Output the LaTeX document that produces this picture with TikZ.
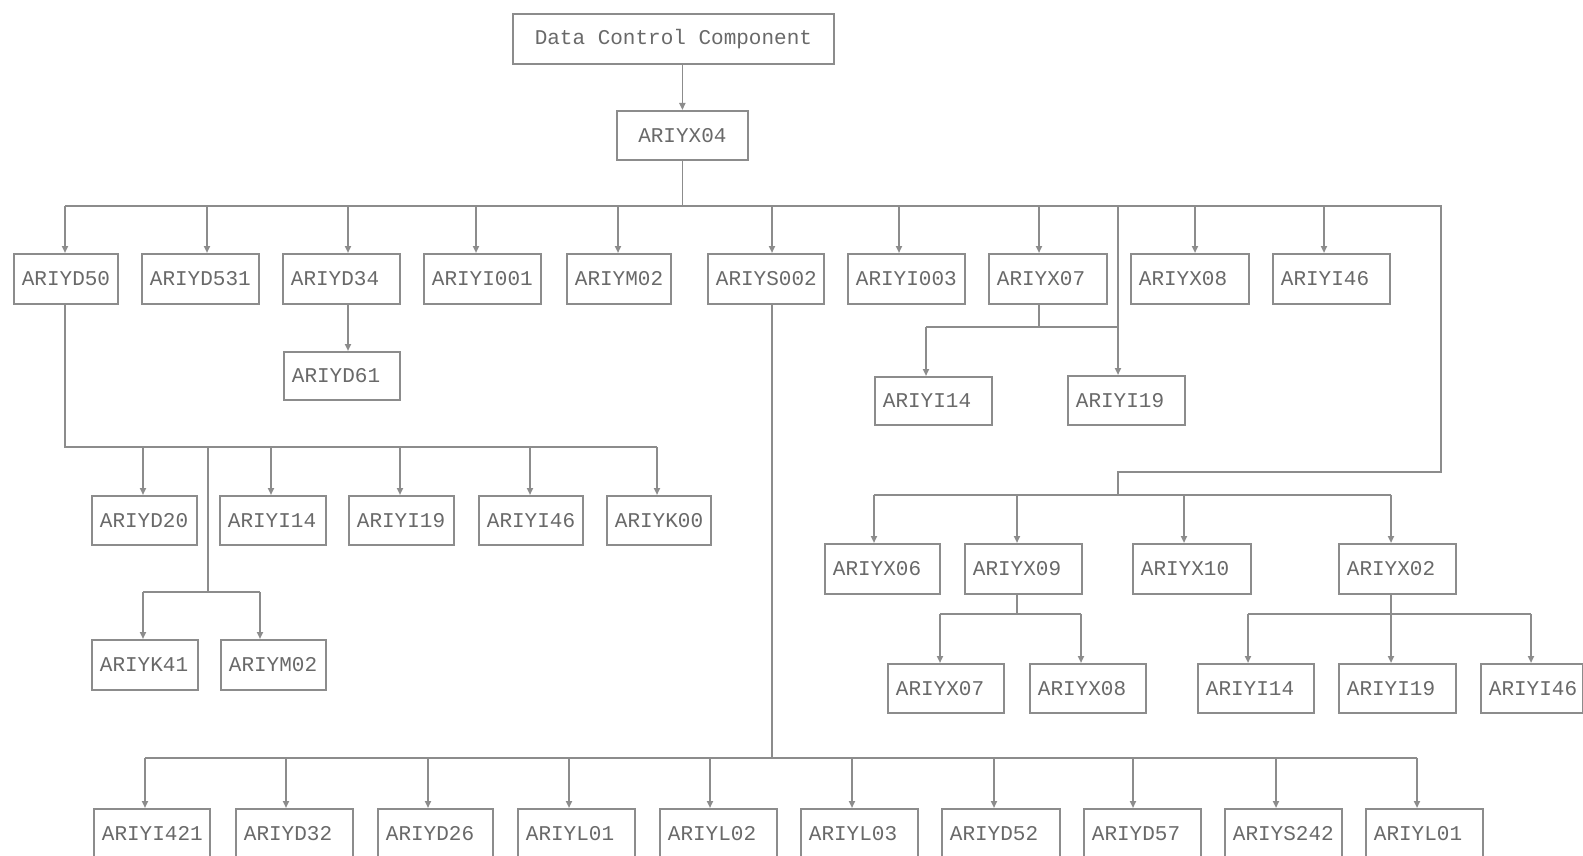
\documentclass[tikz,border=0pt]{standalone}
\usepackage{fontspec}
\newfontfamily\boxfont{Liberation Mono}
\usetikzlibrary{arrows.meta}
\definecolor{inkgray}{RGB}{105,105,105}
\definecolor{linegray}{RGB}{140,140,140}
\tikzset{
  bx/.style={draw=linegray, line width=1.8pt, inner xsep=8pt, inner ysep=0pt,
    text=inkgray, font=\boxfont\fontsize{21}{24}\selectfont, anchor=north west},
  ln/.style={draw=linegray, line width=1.8pt},
  arr/.style={ln, -{Triangle[length=7pt,width=6pt]}},
}
% \mknode{name}{left}{top}{width}{height}{entry offset}{label}
\newcommand\mknode[7]{%
  \node[bx, minimum height=#5pt] (#1) at (#2,#3)
    {\makebox[\dimexpr#4pt-16pt\relax][l]{#7}};
  \coordinate (#1-in) at ([xshift=#6pt]#1.north west);
}
\begin{document}
\begin{tikzpicture}[x=1pt,y=-1pt]
\useasboundingbox[fill=white] (0,0) rectangle (1583,856);

% root and its single child
\node[bx, minimum width=321pt, minimum height=50pt] (DCC) at (512,13) {Data Control Component};
\node[bx, minimum width=131pt, minimum height=49pt] (X04) at (616,110) {ARIYX04};

% first level
\mknode{D50}{13}{253}{104}{50}{52}{ARIYD50}
\mknode{D531}{141}{253}{117}{50}{66}{ARIYD531}
\mknode{D34}{282}{253}{117}{50}{66}{ARIYD34}
\mknode{I001}{423}{253}{117}{50}{53}{ARIYI001}
\mknode{M02}{566}{253}{104}{50}{52}{ARIYM02}
\mknode{S002}{707}{253}{116}{50}{65}{ARIYS002}
\mknode{I003}{847}{253}{117}{50}{52}{ARIYI003}
\mknode{X07}{988}{253}{118}{50}{51}{ARIYX07}
\mknode{X08}{1130}{253}{118}{50}{65}{ARIYX08}
\mknode{I46}{1272}{253}{117}{50}{52}{ARIYI46}

\mknode{D61}{283}{351}{116}{48}{65}{ARIYD61}
\mknode{I14a}{874}{376}{117}{48}{52}{ARIYI14}
\mknode{I19a}{1067}{375}{117}{49}{51}{ARIYI19}

% under ARIYD50
\mknode{D20}{91}{495}{105}{49}{52}{ARIYD20}
\mknode{I14b}{219}{495}{106}{49}{52}{ARIYI14}
\mknode{I19b}{348}{495}{105}{49}{52}{ARIYI19}
\mknode{I46b}{478}{495}{104}{49}{52}{ARIYI46}
\mknode{K00}{606}{495}{104}{49}{51}{ARIYK00}
\mknode{K41}{91}{639}{106}{50}{52}{ARIYK41}
\mknode{M02b}{220}{639}{105}{50}{40}{ARIYM02}

% right-hand branch
\mknode{X06}{824}{543}{115}{50}{50}{ARIYX06}
\mknode{X09}{964}{543}{117}{50}{53}{ARIYX09}
\mknode{X10}{1132}{543}{118}{50}{52}{ARIYX10}
\mknode{X02}{1338}{543}{117}{50}{53}{ARIYX02}
\mknode{X07b}{887}{663}{116}{49}{53}{ARIYX07}
\mknode{X08b}{1029}{663}{116}{49}{52}{ARIYX08}
\mknode{I14c}{1197}{663}{116}{49}{51}{ARIYI14}
\mknode{I19c}{1338}{663}{117}{49}{53}{ARIYI19}
\mknode{I46c}{1480}{663}{102}{49}{51}{ARIYI46}

% under ARIYS002
\mknode{I421}{93}{808}{116}{50}{52}{ARIYI421}
\mknode{D32}{235}{808}{117}{50}{51}{ARIYD32}
\mknode{D26}{377}{808}{115}{50}{51}{ARIYD26}
\mknode{L01}{517}{808}{117}{50}{52}{ARIYL01}
\mknode{L02}{659}{808}{117}{50}{51}{ARIYL02}
\mknode{L03}{800}{808}{117}{50}{52}{ARIYL03}
\mknode{D52}{941}{808}{118}{50}{53}{ARIYD52}
\mknode{D57}{1083}{808}{117}{50}{50}{ARIYD57}
\mknode{S242}{1224}{808}{117}{50}{52}{ARIYS242}
\mknode{L01b}{1365}{808}{117}{50}{52}{ARIYL01}

% bus levels
\coordinate (b1) at (0,206);
\coordinate (c1) at (0,327);
\coordinate (b2) at (0,447);
\coordinate (j2) at (208,447);
\coordinate (c2) at (208,592);
\coordinate (rt) at (1441,472);
\coordinate (b3) at (0,495);
\coordinate (c3) at (0,614);
\coordinate (b5) at (0,758);

% root to ARIYX04 and the first bus
\draw[arr] (X04.north |- DCC.south) -- (X04.north);
\draw[ln] (X04.south) -- (X04.south |- b1);
\draw[ln] (D50-in |- b1) -- (b1 -| rt) -- (rt) -- (I19a-in |- rt) -- (I19a-in |- b3);
\foreach \n in {D50,D531,D34,I001,M02,S002,I003,X07,X08,I46}
  \draw[arr] (\n-in |- b1) -- (\n-in);
\draw[arr] (I19a-in |- b1) -- (I19a-in);

% ARIYD34 and ARIYX07 children
\draw[arr] (D34-in |- D34.south) -- (D61-in);
\draw[ln] (X07-in |- X07.south) -- (X07-in |- c1);
\draw[ln] (I14a-in |- c1) -- (I19a-in |- c1);
\draw[arr] (I14a-in |- c1) -- (I14a-in);

% ARIYD50 subtree
\draw[ln] (D50-in |- D50.south) -- (D50-in |- b2) -- (K00-in |- b2);
\foreach \n in {D20,I14b,I19b,I46b,K00}
  \draw[arr] (\n-in |- b2) -- (\n-in);
\draw[ln] (j2) -- (c2);
\draw[ln] (K41-in |- c2) -- (M02b-in |- c2);
\foreach \n in {K41,M02b}
  \draw[arr] (\n-in |- c2) -- (\n-in);

% right-hand subtree
\draw[ln] (X06-in |- b3) -- (X02-in |- b3);
\foreach \n in {X06,X09,X10,X02}
  \draw[arr] (\n-in |- b3) -- (\n-in);
\draw[ln] (X09-in |- X09.south) -- (X09-in |- c3);
\draw[ln] (X07b-in |- c3) -- (X08b-in |- c3);
\foreach \n in {X07b,X08b}
  \draw[arr] (\n-in |- c3) -- (\n-in);
\draw[ln] (X02-in |- X02.south) -- (X02-in |- c3);
\draw[ln] (I14c-in |- c3) -- (I46c-in |- c3);
\foreach \n in {I14c,I19c,I46c}
  \draw[arr] (\n-in |- c3) -- (\n-in);

% ARIYS002 subtree
\draw[ln] (S002-in |- S002.south) -- (S002-in |- b5);
\draw[ln] (I421-in |- b5) -- (L01b-in |- b5);
\foreach \n in {I421,D32,D26,L01,L02,L03,D52,D57,S242,L01b}
  \draw[arr] (\n-in |- b5) -- (\n-in);
\end{tikzpicture}
\end{document}
